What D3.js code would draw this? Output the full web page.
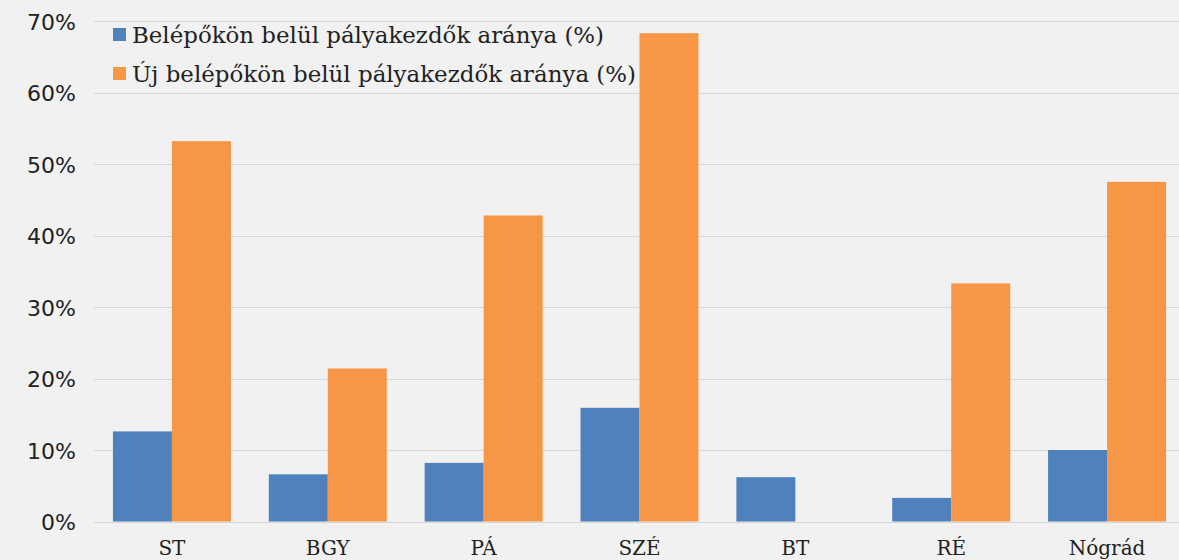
<!DOCTYPE html>
<html><head><meta charset="utf-8">
<script src="https://cdn.jsdelivr.net/npm/d3@7"></script>
<style>body{margin:0;background:#f1f1f1;}svg{display:block;}</style>
</head><body>
<script>
const categories = ["ST","BGY","PÁ","SZÉ","BT","RÉ","Nógrád"];
const seriesNames = ["Belépőkön belül pályakezdők aránya (%)","Új belépőkön belül pályakezdők aránya (%)"];
const belepokon = [12.6, 6.6, 8.2, 15.9, 6.2, 3.3, 10.0];
const ujBelepokon = [53.2, 21.4, 42.8, 68.3, 0, 33.3, 47.5];
const yTicks = [0,10,20,30,40,50,60,70];
const colors = ["#4F81BD","#F79646"];

const W=1179,H=560;
const svg=d3.select("body").append("svg").attr("width",W).attr("height",H);
svg.append("rect").attr("width",W).attr("height",H).attr("fill","#f1f1f1");

const y=d3.scaleLinear().domain([0,70]).range([521.5,21]);
const x=d3.scaleBand().domain(categories).range([94,1185]).paddingInner(0.243).paddingOuter(0.1215);
const x1=d3.scaleBand().domain([0,1]).range([0,x.bandwidth()]);

// gridlines
svg.append("g").selectAll("line").data(yTicks).join("line")
  .attr("x1",94).attr("x2",W).attr("y1",d=>Math.round(y(d))+0.5).attr("y2",d=>Math.round(y(d))+0.5)
  .attr("stroke","#d6d6d6").attr("stroke-width",1.2);

// y axis
const ya=svg.append("g").attr("transform","translate(76,0)")
  .call(d3.axisLeft(y).tickValues(yTicks).tickFormat(d=>d+"%").tickSize(0).tickPadding(0));
ya.select(".domain").remove();
ya.selectAll("text").attr("font-family","DejaVu Sans, sans-serif").attr("font-size","22px").attr("fill","#222").attr("dy","0.38em");

// bars
const series=[belepokon,ujBelepokon];
series.forEach((vals,si)=>{
  svg.append("g").selectAll("rect").data(vals).join("rect")
    .attr("x",(d,i)=>x(categories[i])+x1(si))
    .attr("width",x1.bandwidth())
    .attr("y",d=>y(d)).attr("height",d=>y(0)-y(d))
    .attr("fill",colors[si]);
});

// x axis labels
const xa=svg.append("g").attr("transform","translate(0,555)")
  .call(d3.axisBottom(x).tickSize(0).tickPadding(0));
xa.select(".domain").remove();
xa.selectAll("text").attr("font-family","DejaVu Serif, serif").attr("font-size","20px").attr("fill","#222").attr("dy","0");

// legend
const lg=svg.append("g");
const legendLen=[472,504];
seriesNames.forEach((n,i)=>{
  const yy=35+i*39;
  lg.append("rect").attr("x",113).attr("y",yy-7).attr("width",13).attr("height",13).attr("fill",colors[i]);
  lg.append("text").attr("x",132).attr("y",yy+8).text(n)
    .attr("textLength",legendLen[i]).attr("lengthAdjust","spacingAndGlyphs")
    .attr("font-family","DejaVu Serif, serif").attr("font-size","22px").attr("fill","#222");
});
</script>
</body></html>
